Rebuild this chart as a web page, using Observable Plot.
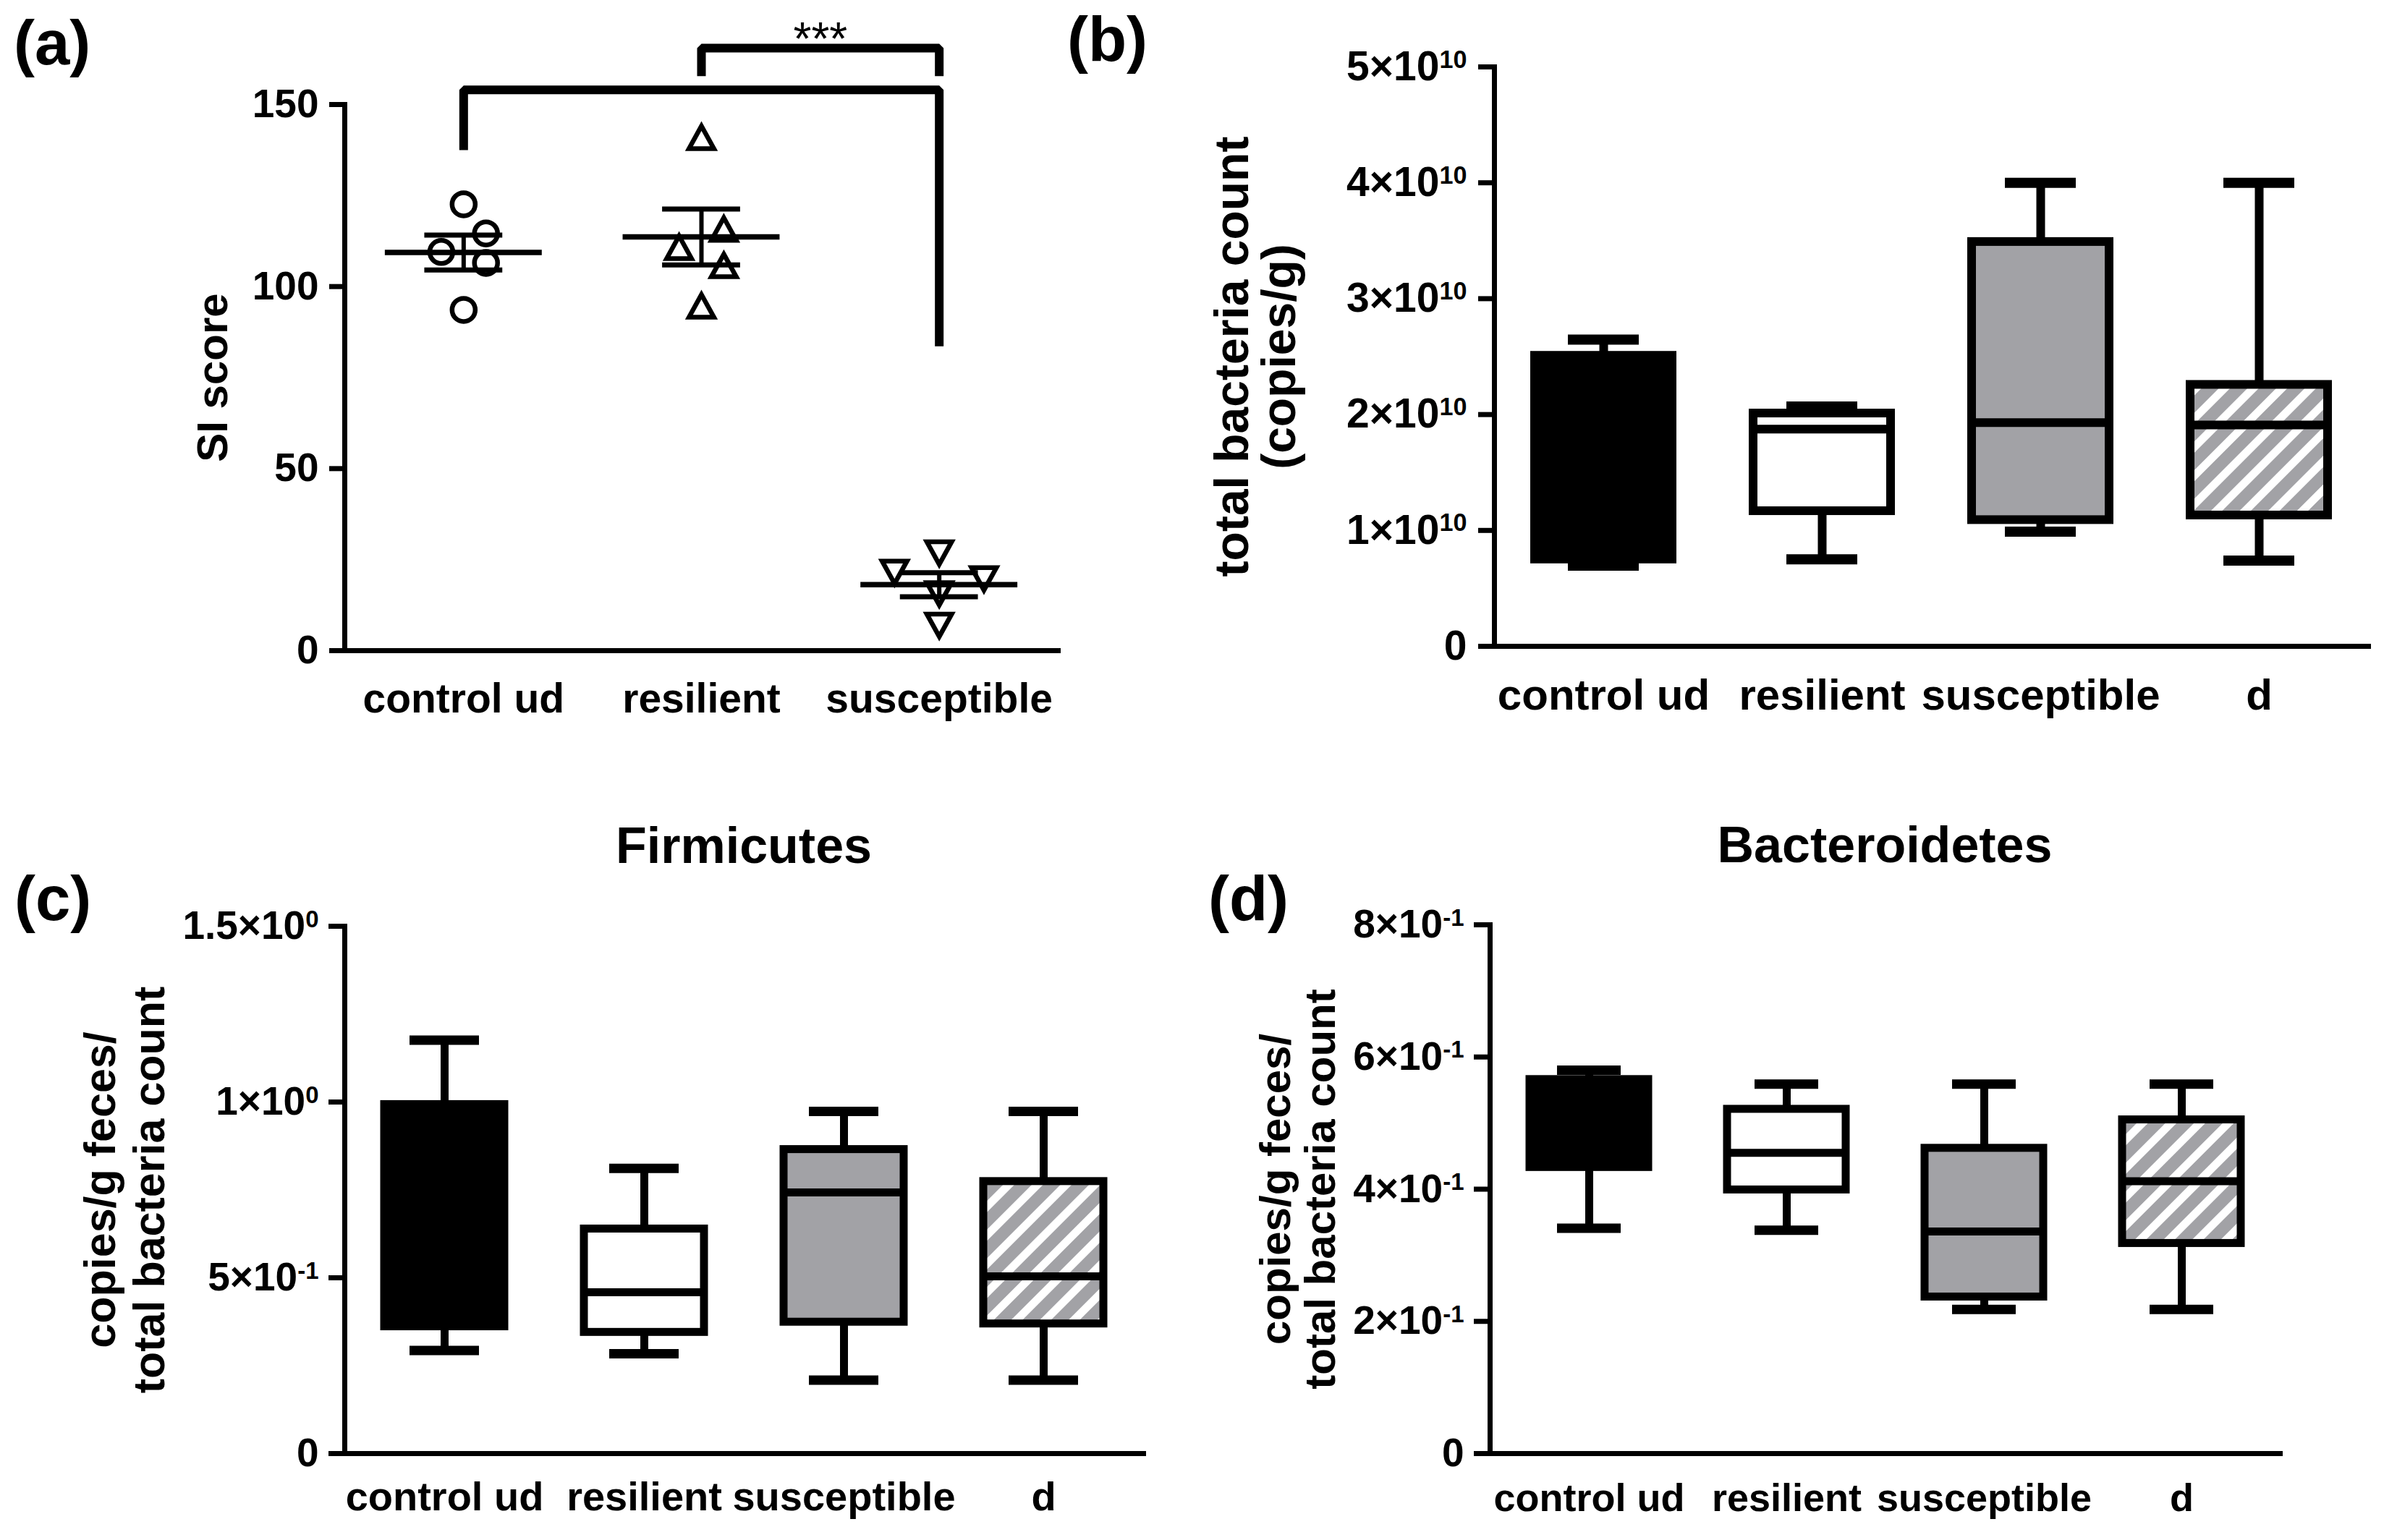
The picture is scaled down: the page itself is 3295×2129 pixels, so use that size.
<!DOCTYPE html>
<html>
<head>
<meta charset="utf-8">
<script src="https://cdn.jsdelivr.net/npm/d3@7"></script>
<script src="https://cdn.jsdelivr.net/npm/@observablehq/plot@0.6"></script>
<style>
  html, body { margin: 0; padding: 0; background: #fff; }
  #page { position: relative; width: 3295px; height: 2129px; background: #fff; overflow: hidden;
          font-family: 'Liberation Sans', Arial, Helvetica, sans-serif; font-weight: bold; color: #000; }
  .panel { position: absolute; }
  .panel svg { display: block; max-width: none !important; }
  .lab { position: absolute; line-height: 1; white-space: nowrap; }
</style>
</head>
<body>
<div id="page"></div>
<script>
// ---------------- DATA ----------------
// (a) social interaction score
const groupsA = ["control ud", "resilient", "susceptible"];
const siControl = [122.6, 114.6, 109.5, 106.5, 93.6];
const siResilient = [141.0, 115.8, 110.8, 105.8, 94.7];
const siSusceptible = [26.8, 21.5, 19.7, 15.6, 6.95];
// scatter column of each point as drawn (-2 .. 2)
const colControl = [0, 1, -1, 1, 0];
const colResilient = [0, 1, -1, 1, 0];
const colSusceptible = [0, -2, 2, 0, 0];
const aTicks = [0, 50, 100, 150];
// significance brackets
const bracketFrom = ["control ud", "resilient"];
const bracketTo = ["susceptible", "susceptible"];
const bracketTop = [154.0, 165.5];
const bracketFromEnd = [137.5, 157.8];
const bracketToEnd = [83.6, 157.8];
const bracketStars = ["", "***"];

// (b)-(d) box plots
const groupsB = ["control ud", "resilient", "susceptible", "d"];
// (b) total bacteria count (copies/g)
const totMin = [0.696e10, 0.75e10, 0.99e10, 0.74e10];
const totQ1 = [0.75e10, 1.167e10, 1.09e10, 1.13e10];
const totMedian = [1.55e10, 1.875e10, 1.93e10, 1.91e10];
const totQ3 = [2.508e10, 2.01e10, 3.49e10, 2.257e10];
const totMax = [2.646e10, 2.07e10, 4.0e10, 4.0e10];
const totTicks = [0, 1e10, 2e10, 3e10, 4e10, 5e10];
const totTickLabels = ["0", "1×10^10", "2×10^10", "3×10^10", "4×10^10", "5×10^10"];
// (c) Firmicutes
const firmMin = [0.293, 0.284, 0.209, 0.209];
const firmQ1 = [0.361, 0.345, 0.374, 0.369];
const firmMedian = [0.60, 0.459, 0.743, 0.504];
const firmQ3 = [0.993, 0.639, 0.865, 0.774];
const firmMax = [1.176, 0.811, 0.973, 0.973];
const firmTicks = [0, 0.5, 1.0, 1.5];
const firmTickLabels = ["0", "5×10^-1", "1×10^0", "1.5×10^0"];
// (d) Bacteroidetes
const bactMin = [0.341, 0.338, 0.218, 0.218];
const bactQ1 = [0.433, 0.399, 0.237, 0.318];
const bactMedian = [0.50, 0.455, 0.336, 0.412];
const bactQ3 = [0.566, 0.521, 0.462, 0.505];
const bactMax = [0.580, 0.559, 0.559, 0.559];
const bactTicks = [0, 0.2, 0.4, 0.6, 0.8];
const bactTickLabels = ["0", "2×10^-1", "4×10^-1", "6×10^-1", "8×10^-1"];

// ---------------- STYLE ----------------
const FONT = "'Liberation Sans', Arial, Helvetica, sans-serif";
const GRAY = "#a2a2a6";
const page = document.getElementById("page");

function place(node, left, top, w, h) {
  const d = document.createElement("div");
  d.className = "panel";
  d.style.left = left + "px"; d.style.top = top + "px";
  d.style.width = w + "px"; d.style.height = h + "px";
  d.appendChild(node);
  page.appendChild(d);
}
function htmlLabel(text, left, top, size, width, align) {
  const d = document.createElement("div");
  d.className = "lab";
  d.textContent = text;
  d.style.left = left + "px"; d.style.top = top + "px";
  d.style.fontSize = size + "px";
  if (width) { d.style.width = width + "px"; d.style.textAlign = align || "center"; }
  page.appendChild(d);
}
function superscripts(svg) {
  d3.select(svg).selectAll("text").each(function () {
    const t = this.textContent;
    if (!t.includes("^") || this.querySelector("tspan")) return;
    const [base, exp] = t.split("^");
    const sel = d3.select(this);
    sel.text(base);
    sel.append("tspan").attr("font-size", "0.6em").attr("dy", "-0.5em").text(exp);
  });
}

// ---------------- PANEL (a) ----------------
const aPoints = [];
[[siControl, colControl], [siResilient, colResilient], [siSusceptible, colSusceptible]].forEach(([vals, cols], gi) =>
  vals.forEach((v, k) => aPoints.push({group: groupsA[gi], gi, value: v, col: cols[k]})));
const aStats = groupsA.map((g, gi) => {
  const v = aPoints.filter(p => p.gi === gi).map(p => p.value);
  const m = d3.mean(v), s = d3.deviation(v) / Math.sqrt(v.length);
  return {group: g, gi, mean: m, lo: m - s, hi: m + s};
});
const bracketPts = [];
const bracketText = [];
bracketFrom.forEach((f, j) => {
  const x1 = groupsA.indexOf(f), x2 = groupsA.indexOf(bracketTo[j]);
  bracketPts.push({id: j, x: x1, y: bracketFromEnd[j]}, {id: j, x: x1, y: bracketTop[j]},
                  {id: j, x: x2, y: bracketTop[j]}, {id: j, x: x2, y: bracketToEnd[j]});
  if (bracketStars[j]) bracketText.push({x: (x1 + x2) / 2, y: bracketTop[j], t: bracketStars[j]});
});

const jit = 0.094, meanHalf = 0.33, semHalf = 0.164;
const triUp = {draw(ctx, size) { const r = Math.sqrt(size / Math.PI), w = 2.15 * r, h = 1.95 * r;
  ctx.moveTo(0, -h / 2); ctx.lineTo(w / 2, h / 2); ctx.lineTo(-w / 2, h / 2); ctx.closePath(); }};
const triDown = {draw(ctx, size) { const r = Math.sqrt(size / Math.PI), w = 2.15 * r, h = 1.95 * r;
  ctx.moveTo(0, h / 2); ctx.lineTo(w / 2, -h / 2); ctx.lineTo(-w / 2, -h / 2); ctx.closePath(); }};
const aSymbols = ["circle", triUp, triDown];

const plotA = Plot.plot({
  width: 1560, height: 1060,
  marginLeft: 476, marginRight: 98, marginTop: 144, marginBottom: 161,
  x: {domain: [-0.5, 2.5]},
  y: {domain: [0, 150]},
  style: {fontFamily: FONT, fontWeight: "bold", background: "transparent", color: "#000", overflow: "visible"},
  marks: [
    Plot.frame({anchor: "left", strokeWidth: 7}),
    Plot.frame({anchor: "bottom", strokeWidth: 7}),
    Plot.axisY({ticks: aTicks, tickSize: 21, tickPadding: 15, strokeWidth: 7, fontSize: 55, label: null}),
    Plot.axisX({ticks: [0, 1, 2], tickFormat: i => groupsA[i], tickSize: 0, tickPadding: 45, fontSize: 57, label: null}),
    Plot.text(["SI score"], {text: d => d, frameAnchor: "left", textAnchor: "middle", rotate: -90, lineAnchor: "top", dx: -205, fontSize: 60}),
    Plot.ruleY(aStats, {x1: d => d.gi - meanHalf, x2: d => d.gi + meanHalf, y: "mean", strokeWidth: 7.5}),
    Plot.ruleY(aStats, {x1: d => d.gi - semHalf, x2: d => d.gi + semHalf, y: "lo", strokeWidth: 7}),
    Plot.ruleY(aStats, {x1: d => d.gi - semHalf, x2: d => d.gi + semHalf, y: "hi", strokeWidth: 7}),
    Plot.ruleX(aStats, {x: "gi", y1: "lo", y2: "hi", strokeWidth: 6}),
    ...groupsA.map((g, gi) => Plot.dot(aPoints, {filter: d => d.gi === gi, x: d => d.gi + d.col * jit, y: "value",
      symbol: aSymbols[gi], r: 16, stroke: "#000", strokeWidth: 6.5, fill: "none"})),
    Plot.line(bracketPts, {x: "x", y: "y", z: "id", stroke: "#000", strokeWidth: 12, strokeLinejoin: "miter", strokeLinecap: "butt"}),
    Plot.text(bracketText, {x: "x", y: "y", text: "t", lineAnchor: "bottom", dy: 10, fontSize: 64, fontWeight: "normal"})
  ]
});
place(plotA, 0, 0, 1560, 1060);

// ---------------- BOX PANELS ----------------
function boxPanel(cfg) {
  const stats = groupsB.map((g, i) => ({group: g, min: cfg.min[i], q1: cfg.q1[i], median: cfg.median[i], q3: cfg.q3[i], max: cfg.max[i]}));
  const hid = cfg.id + "-hatch";
  const sw = cfg.sw;
  const svg = Plot.plot({
    width: cfg.width, height: cfg.height,
    marginLeft: cfg.ml, marginRight: cfg.mr, marginTop: cfg.mt, marginBottom: cfg.mb,
    x: {domain: groupsB, paddingInner: cfg.pad, paddingOuter: cfg.pad / 2},
    y: {domain: [0, cfg.ticks[cfg.ticks.length - 1]]},
    color: {type: "ordinal", domain: groupsB, range: ["#000", "#fff", GRAY, `url(#${hid})`]},
    style: {fontFamily: FONT, fontWeight: "bold", background: "transparent", color: "#000", overflow: "visible"},
    marks: [
      Plot.frame({anchor: "left", strokeWidth: 7}),
      Plot.frame({anchor: "bottom", strokeWidth: 7}),
      Plot.axisY({ticks: cfg.ticks, tickFormat: d => cfg.tickLabels[cfg.ticks.indexOf(d)], tickSize: 22,
        tickPadding: cfg.tp, strokeWidth: 7, fontSize: cfg.tickFont, label: null}),
      Plot.axisX({tickSize: 0, tickPadding: cfg.xp, fontSize: cfg.xFont, label: null}),
      Plot.text([cfg.ylabel], {text: d => d, frameAnchor: "left", textAnchor: "middle", rotate: -90, lineAnchor: "top",
        dx: cfg.ydx, fontSize: cfg.yFont, lineHeight: cfg.lh}),
      Plot.ruleX(stats, {x: "group", y1: "min", y2: "q1", strokeWidth: sw}),
      Plot.ruleX(stats, {x: "group", y1: "q3", y2: "max", strokeWidth: sw}),
      Plot.tickY(stats, {x: "group", y: "min", insetLeft: cfg.capInset, insetRight: cfg.capInset, strokeWidth: sw + 2}),
      Plot.tickY(stats, {x: "group", y: "max", insetLeft: cfg.capInset, insetRight: cfg.capInset, strokeWidth: sw + 2}),
      Plot.barY(stats, {x: "group", y1: "q1", y2: "q3", fill: "group", stroke: "#000", strokeWidth: sw}),
      Plot.tickY(stats, {x: "group", y: "median", stroke: "#000", strokeWidth: sw})
    ]
  });
  const defs = d3.select(svg).insert("defs", ":first-child");
  const pat = defs.append("pattern").attr("id", hid).attr("patternUnits", "userSpaceOnUse")
    .attr("width", 28).attr("height", 28).attr("patternTransform", "rotate(45)");
  pat.append("rect").attr("width", 28).attr("height", 28).attr("fill", "#fff");
  pat.append("rect").attr("width", 17).attr("height", 28).attr("fill", GRAY);
  superscripts(svg);
  place(svg, cfg.left, cfg.top, cfg.width, cfg.height);
}

boxPanel({id: "b", left: 1560, top: 0, width: 1735, height: 1060, ml: 505, mr: 22, mt: 92, mb: 167,
  pad: 0.37, capInset: 46, sw: 12, tp: 16, tickFont: 57, xp: 45, xFont: 60,
  ylabel: "total bacteria count\n(copies/g)", ydx: -386, yFont: 66, lh: 0.98,
  min: totMin, q1: totQ1, median: totMedian, q3: totQ3, max: totMax, ticks: totTicks, tickLabels: totTickLabels});

boxPanel({id: "c", left: 0, top: 1060, width: 1640, height: 1069, ml: 476, mr: 60, mt: 220, mb: 120,
  pad: 0.4, capInset: 35, sw: 11, tp: 14, tickFont: 55, xp: 39, xFont: 56,
  ylabel: "copies/g feces/\ntotal bacteria count", ydx: -366, yFont: 61, lh: 1.12,
  min: firmMin, q1: firmQ1, median: firmMedian, q3: firmQ3, max: firmMax, ticks: firmTicks, tickLabels: firmTickLabels});

boxPanel({id: "d", left: 1640, top: 1060, width: 1655, height: 1069, ml: 419, mr: 144, mt: 218, mb: 120,
  pad: 0.4, capInset: 38, sw: 11, tp: 14, tickFont: 55, xp: 41, xFont: 54,
  ylabel: "copies/g feces/\ntotal bacteria count", ydx: -320, yFont: 60, lh: 1.03,
  min: bactMin, q1: bactQ1, median: bactMedian, q3: bactQ3, max: bactMax, ticks: bactTicks, tickLabels: bactTickLabels});

// ---------------- TITLES & PANEL LABELS ----------------
htmlLabel("Firmicutes", 628, 1134, 70, 800);
htmlLabel("Bacteroidetes", 2205, 1133, 70, 800);
htmlLabel("(a)", 19, 15, 87);
htmlLabel("(b)", 1475, 10, 87);
htmlLabel("(c)", 20, 1198, 87);
htmlLabel("(d)", 1670, 1198, 87);
</script>
</body>
</html>
